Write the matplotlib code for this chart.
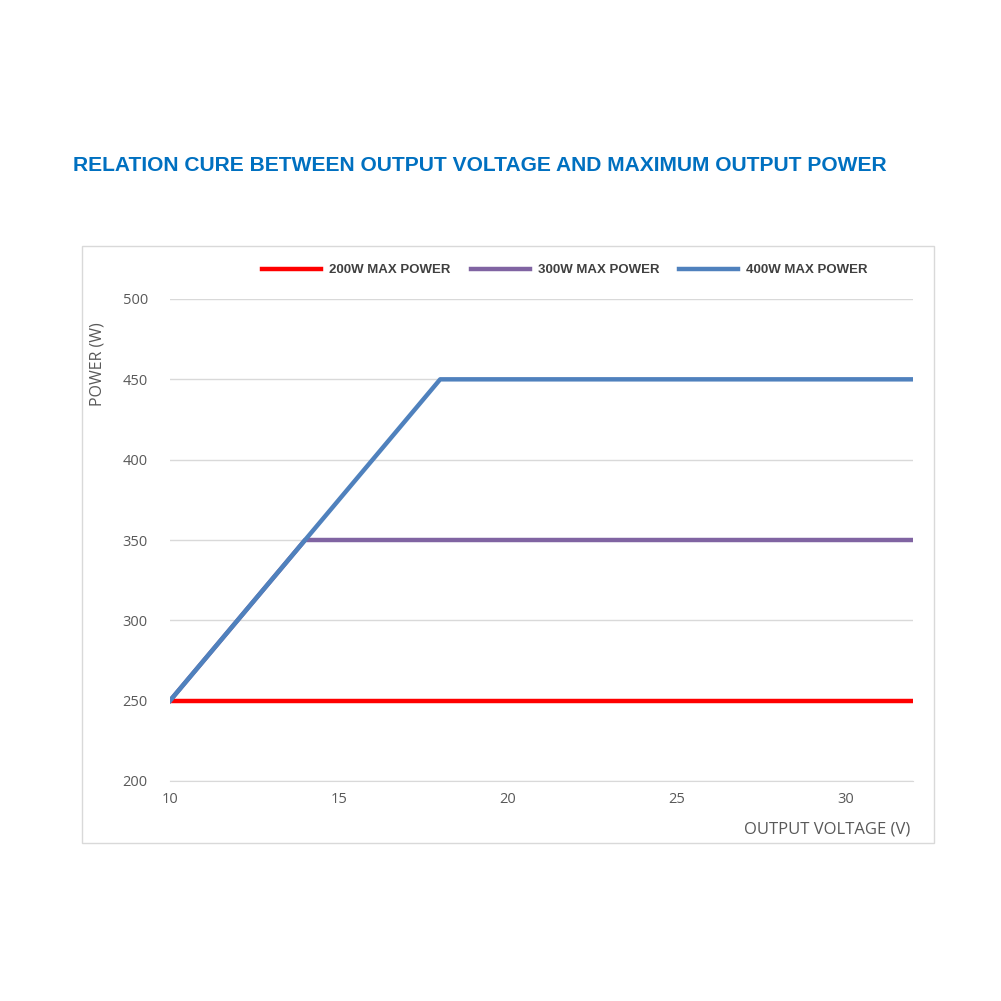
import matplotlib.pyplot as plt
from matplotlib.patches import Rectangle

x_200 = [10, 32]
y_200 = [250, 250]
x_300 = [10, 14, 32]
y_300 = [250, 350, 350]
x_400 = [10, 18, 32]
y_400 = [250, 450, 450]
labels = ['200W MAX POWER', '300W MAX POWER', '400W MAX POWER']
colors = ['#FF0000', '#8064A2', '#4F81BD']

plt.rcParams['font.family'] = ['Open Sans', 'DejaVu Sans']
fig = plt.figure(figsize=(10.01, 10.01), dpi=100)
fig.patches.append(Rectangle((82/1001, 1-843/1001), 852/1001, 597/1001,
                             transform=fig.transFigure, fill=False,
                             edgecolor='#D9D9D9', lw=1))
fig.text(73/1001, 1-166/1001, 'RELATION CURE BETWEEN OUTPUT VOLTAGE AND MAXIMUM OUTPUT POWER',
         color='#0070C0', fontsize=15.1, fontweight='bold', family='Liberation Sans',
         va='center', ha='left')

ax = fig.add_axes([170/1001, 1-781/1001, 743/1001, 482/1001])
ax.plot(x_200, y_200, color=colors[0], lw=3.2, label=labels[0])
ax.plot(x_300, y_300, color=colors[1], lw=3.2, label=labels[1])
ax.plot(x_400, y_400, color=colors[2], lw=3.2, label=labels[2])
ax.set_xlim(10, 32)
ax.set_ylim(200, 500)
ax.set_xticks([10, 15, 20, 25, 30])
ax.set_yticks(range(200, 501, 50))
ax.grid(axis='y', color='#D9D9D9', lw=1)
ax.set_axisbelow(True)
for s in ['top', 'right', 'left']:
    ax.spines[s].set_visible(False)
ax.spines['bottom'].set_color('#D9D9D9')
ax.tick_params(length=0, labelsize=10.5, labelcolor='#595959', pad=8)
ax.tick_params(axis='y', pad=16)
fig.text(98/1001, 1-364/1001, 'POWER (W)', rotation=90, color='#595959',
         fontsize=11.5, va='center', ha='center')
fig.text(910/1001, 1-830/1001, 'OUTPUT VOLTAGE (V)', color='#595959',
         fontsize=12, va='center', ha='right')
leg = ax.legend(loc='center', bbox_to_anchor=(565/1001, 1-270/1001),
                bbox_transform=fig.transFigure, ncol=3, frameon=False,
                prop={'family': 'Liberation Sans', 'weight': 'bold', 'size': 9.5},
                handlelength=4.5, columnspacing=1.5, handletextpad=0.6)
for t in leg.get_texts():
    t.set_color('#404040')
fig.savefig('out.png', dpi=100)
